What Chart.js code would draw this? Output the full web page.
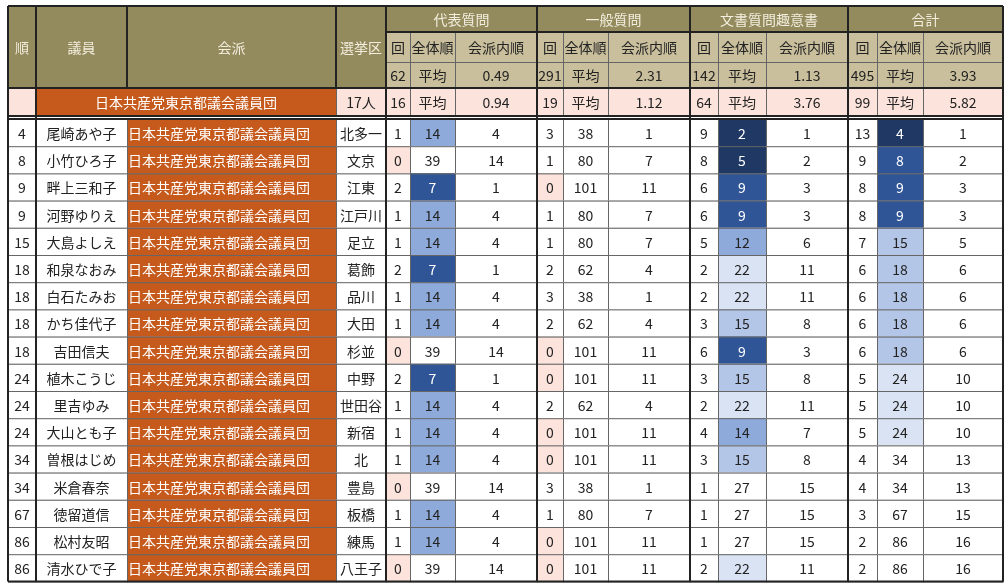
<!DOCTYPE html>
<html><head><meta charset="utf-8">
<script src="https://cdn.jsdelivr.net/npm/chart.js@4"></script>
<style>html,body{margin:0;background:#fff}#wrap{width:1008px;height:588px}</style>
</head><body><div id="wrap"><canvas id="c"></canvas></div>
<script>
// ─── data ───
const groups = ['代表質問', '一般質問', '文書質問趣意書', '合計'];
const subHeads = ['回', '全体順', '会派内順'];
const totals = [[62, '平均', '0.49'], [291, '平均', '2.31'], [142, '平均', '1.13'], [495, '平均', '3.93']];
const partyName = '日本共産党東京都議会議員団';
const partyCount = '17人';
const partyStats = [[16, '平均', '0.94'], [19, '平均', '1.12'], [64, '平均', '3.76'], [99, '平均', '5.82']];

const ranks = [4, 8, 9, 9, 15, 18, 18, 18, 18, 24, 24, 24, 34, 34, 67, 86, 86];
const members = ['尾崎あや子', '小竹ひろ子', '畔上三和子', '河野ゆりえ', '大島よしえ', '和泉なおみ', '白石たみお', 'かち佳代子', '吉田信夫', '植木こうじ', '里吉ゆみ', '大山とも子', '曽根はじめ', '米倉春奈', '徳留道信', '松村友昭', '清水ひで子'];
const districts = ['北多一', '文京', '江東', '江戸川', '足立', '葛飾', '品川', '大田', '杉並', '中野', '世田谷', '新宿', '北', '豊島', '板橋', '練馬', '八王子'];
const repCount = [1, 0, 2, 1, 1, 2, 1, 1, 0, 2, 1, 1, 1, 0, 1, 1, 0];
const repRank  = [14, 39, 7, 14, 14, 7, 14, 14, 39, 7, 14, 14, 14, 39, 14, 14, 39];
const repInner = [4, 14, 1, 4, 4, 1, 4, 4, 14, 1, 4, 4, 4, 14, 4, 4, 14];
const genCount = [3, 1, 0, 1, 1, 2, 3, 2, 0, 0, 2, 0, 0, 3, 1, 0, 0];
const genRank  = [38, 80, 101, 80, 80, 62, 38, 62, 101, 101, 62, 101, 101, 38, 80, 101, 101];
const genInner = [1, 7, 11, 7, 7, 4, 1, 4, 11, 11, 4, 11, 11, 1, 7, 11, 11];
const docCount = [9, 8, 6, 6, 5, 2, 2, 3, 6, 3, 2, 4, 3, 1, 1, 1, 2];
const docRank  = [2, 5, 9, 9, 12, 22, 22, 15, 9, 15, 22, 14, 15, 27, 27, 27, 22];
const docInner = [1, 2, 3, 3, 6, 11, 11, 8, 3, 8, 11, 7, 8, 15, 15, 15, 11];
const totCount = [13, 9, 8, 8, 7, 6, 6, 6, 6, 5, 5, 5, 4, 4, 3, 2, 2];
const totRank  = [4, 8, 9, 9, 15, 18, 18, 18, 18, 24, 24, 24, 34, 34, 67, 86, 86];
const totInner = [1, 2, 3, 3, 5, 6, 6, 6, 6, 10, 10, 10, 13, 13, 15, 16, 16];

/* ─── layout (in scale units) ─── */
const colX = [8, 36, 127, 336, 386, 410, 455, 537, 563, 608, 690, 718, 766, 848, 877, 923, 1003];
const headY = [6, 32, 62, 88];
const partyY = [88, 116];
const rowTop = 119, rowH = 27.2;

const C = {
    head: '#938a5e', sub: '#c9bf9d', orange: '#c55a1c', pink: '#fce4dc',
    line: '#222', grid: '#666'
};
const heat = v => v <= 5 ? '#1f3864' : v <= 9 ? '#2f5597' : v <= 14 ? '#8eaadb'
    : v <= 18 ? '#b4c6e7' : v <= 24 ? '#dae3f3' : '#ffffff';

const tablePlugin = {
    id: 'table',
    afterDraw(chart) {
        const ctx = chart.ctx, sx = chart.scales.x, sy = chart.scales.y;
        const px = v => sx.getPixelForValue(v), py = v => sy.getPixelForValue(v);
        const FONT = '"Noto Sans CJK JP", "Noto Sans", sans-serif';

        function cell(x0, x1, y0, y1, fill, text, color, align) {
            const a = px(x0), b = px(x1), t = py(y0), u = py(y1);
            if (fill) { ctx.fillStyle = fill; ctx.fillRect(a, t, b - a, u - t); }
            ctx.strokeStyle = C.grid; ctx.lineWidth = 1;
            ctx.strokeRect(a + 0.5, t + 0.5, b - a, u - t);
            if (text !== undefined && text !== '') {
                ctx.fillStyle = color || '#222';
                ctx.font = '14px ' + FONT;
                ctx.textBaseline = 'middle';
                ctx.textAlign = align === 'left' ? 'left' : 'center';
                const tx = align === 'left' ? a + 1 : (a + b) / 2;
                ctx.fillText(String(text), tx, (t + u) / 2 + 1);
            }
        }
        function thick(x0, y0, x1, y1) {
            ctx.strokeStyle = C.line; ctx.lineWidth = 2;
            ctx.beginPath(); ctx.moveTo(px(x0), py(y0)); ctx.lineTo(px(x1), py(y1)); ctx.stroke();
        }

        // header
        const hc = '#f3eedd';
        cell(colX[0], colX[1], headY[0], headY[3], C.head, '順', hc);
        cell(colX[1], colX[2], headY[0], headY[3], C.head, '議員', hc);
        cell(colX[2], colX[3], headY[0], headY[3], C.head, '会派', hc);
        cell(colX[3], colX[4], headY[0], headY[3], C.head, '選挙区', hc);
        groups.forEach((g, i) => {
            const c0 = 4 + i * 3;
            cell(colX[c0], colX[c0 + 3], headY[0], headY[1], C.head, g, hc);
            subHeads.forEach((s, j) => cell(colX[c0 + j], colX[c0 + j + 1], headY[1], headY[2], C.sub, s, '#222'));
            totals[i].forEach((s, j) => cell(colX[c0 + j], colX[c0 + j + 1], headY[2], headY[3], C.sub, s, '#222'));
        });

        // party row
        cell(colX[0], colX[1], partyY[0], partyY[1], C.pink);
        cell(colX[1], colX[3], partyY[0], partyY[1], C.orange, partyName, '#fff');
        cell(colX[3], colX[4], partyY[0], partyY[1], C.pink, partyCount, '#222');
        partyStats.forEach((st, i) => st.forEach((s, j) => {
            const c = 4 + i * 3 + j;
            cell(colX[c], colX[c + 1], partyY[0], partyY[1], C.pink, s, '#222');
        }));

        // member rows
        const blocks = [
            [repCount, repRank, repInner, true],
            [genCount, genRank, genInner, false],
            [docCount, docRank, docInner, true],
            [totCount, totRank, totInner, true]
        ];
        ranks.forEach((r, k) => {
            const y0 = rowTop + k * rowH, y1 = y0 + rowH;
            cell(colX[0], colX[1], y0, y1, '#fff', r);
            cell(colX[1], colX[2], y0, y1, '#fff', members[k]);
            cell(colX[2], colX[3], y0, y1, C.orange, partyName, '#fff', 'left');
            cell(colX[3], colX[4], y0, y1, '#fff', districts[k]);
            blocks.forEach(([cnt, rk, inn, useHeat], i) => {
                const c0 = 4 + i * 3;
                const isTotal = i === 3;
                cell(colX[c0], colX[c0 + 1], y0, y1, (!isTotal && cnt[k] === 0) ? C.pink : '#fff', cnt[k]);
                const f = useHeat ? heat(rk[k]) : '#fff';
                const dark = f === '#1f3864' || f === '#2f5597';
                cell(colX[c0 + 1], colX[c0 + 2], y0, y1, f, rk[k], dark ? '#fff' : '#222');
                cell(colX[c0 + 2], colX[c0 + 3], y0, y1, '#fff', inn[k]);
            });
        });

        // heavy borders
        const bottom = rowTop + ranks.length * rowH;
        [0, 1, 2, 3, 4, 7, 10, 13, 16].forEach(i => thick(colX[i], headY[0], colX[i], headY[3]));
        [0, 1, 4, 7, 10, 13, 16].forEach(i => thick(colX[i], headY[3], colX[i], bottom));
        [headY[0], headY[3], partyY[1], rowTop, bottom].forEach(y => thick(colX[0], y, colX[16], y));
        for (let i = 0; i < 4; i++) thick(colX[4 + i * 3], headY[1], colX[7 + i * 3], headY[1]);
    }
};

new Chart(document.getElementById('c'), {
    type: 'scatter',
    data: { datasets: [{ data: [], pointRadius: 0 }] },
    options: {
        responsive: true,
        maintainAspectRatio: false,
        animation: false,
        layout: { padding: 0 },
        plugins: { legend: { display: false }, tooltip: { enabled: false } },
        scales: {
            x: { type: 'linear', min: 0, max: 1008, display: false },
            y: { type: 'linear', min: 0, max: 588, reverse: true, display: false }
        }
    },
    plugins: [tablePlugin]
});
</script>
</body></html>
